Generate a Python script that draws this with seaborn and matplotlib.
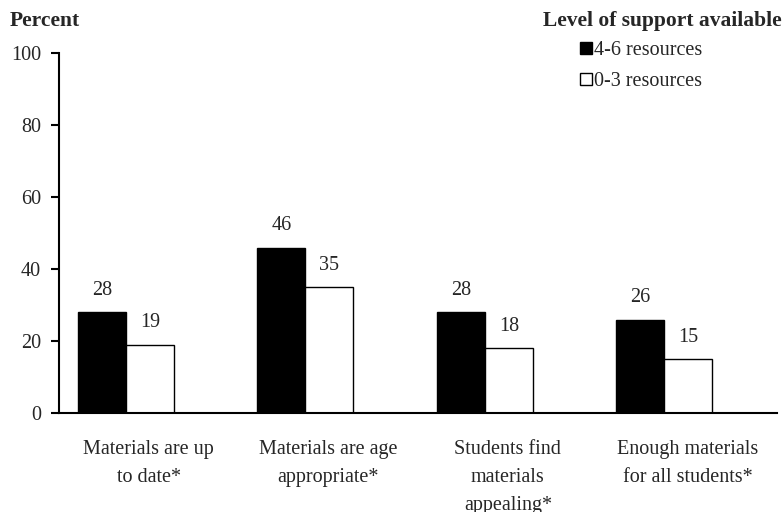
import pandas as pd
import numpy as np
import matplotlib
matplotlib.use("Agg")
import matplotlib.pyplot as plt
import seaborn as sns

# data
items = ["Materials are up\nto date*", "Materials are age\nappropriate*",
         "Students find\nmaterials\nappealing*", "Enough materials\nfor all students*"]
groups = ["4-6 resources", "0-3 resources"]
high_support = [28, 46, 28, 26]
low_support = [19, 35, 18, 15]
yticks = [0, 20, 40, 60, 80, 100]

df = pd.DataFrame({
    "item": items * 2,
    "group": [groups[0]] * 4 + [groups[1]] * 4,
    "pct": high_support + low_support,
})

sns.set_style("white")
plt.rcParams["font.family"] = ["Liberation Serif", "DejaVu Serif"]
fs = 14.5
fs_bold = 15.5

fig = plt.figure(figsize=(7.84, 5.12), dpi=100)
ax = fig.add_axes([0.0753, 0.193, 0.916, 0.703])

sns.barplot(data=df, x="item", y="pct", hue="group", order=items, hue_order=groups,
            palette=["black", "white"], edgecolor="black", linewidth=1.0,
            width=0.535, ax=ax)

for c in ax.containers:
    ax.bar_label(c, fmt="%d", padding=9, fontsize=fs)

shift = 0.128
ax.set_xlim(-0.5 + shift, 3.5 + shift)
ax.set_ylim(0, 100)
ax.set_yticks(yticks)
ax.set_yticklabels([str(v) for v in yticks], fontsize=fs)
ax.set_xticks(np.arange(len(items)) + shift)
ax.set_xticklabels(items, fontsize=fs)
for t in ax.get_xticklabels():
    t.set_linespacing(1.66)
ax.tick_params(axis="x", length=0, pad=19)
ax.tick_params(axis="y", length=6, width=1.5, direction="out", color="black", pad=7, left=True)
ax.set_xlabel("")
ax.set_ylabel("")
sns.despine(ax=ax)
for s in ["left", "bottom"]:
    ax.spines[s].set_linewidth(1.5)
    ax.spines[s].set_color("black")

handles, labels = ax.get_legend_handles_labels()
ax.legend(handles, labels, loc="upper left", bbox_to_anchor=(572 / 784, 1 - 33 / 512),
          bbox_transform=fig.transFigure, frameon=False, fontsize=fs,
          handlelength=0.6, handleheight=0.6, handletextpad=0.1, labelspacing=0.6,
          borderaxespad=0)

fig.text(10 / 784, 1 - 21 / 512, "Percent", fontsize=fs_bold, fontweight="bold", va="center")
fig.text(782 / 784, 1 - 21 / 512, "Level of support available", fontsize=fs_bold,
         fontweight="bold", va="center", ha="right")

fig.savefig("out.png", dpi=100)
